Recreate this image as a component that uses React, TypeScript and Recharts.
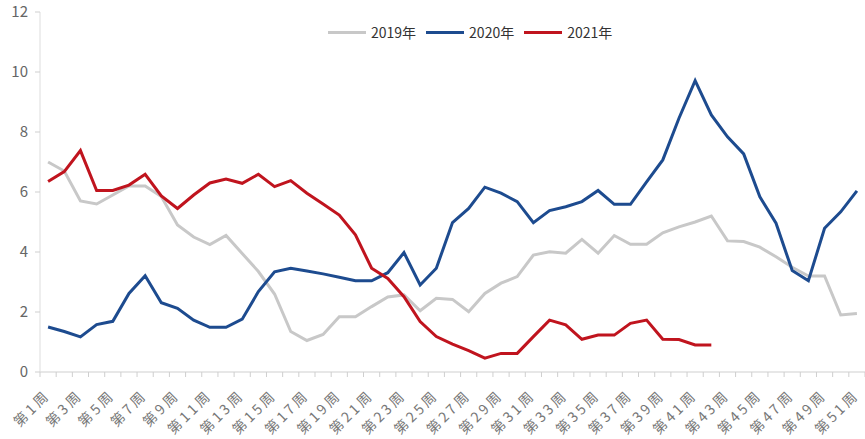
import React from 'react';
import { LineChart, Line, XAxis, YAxis } from 'recharts';

// 周次
const weeks = Array.from({ length: 51 }, (_, i) => `第${i + 1}周`);

// 各年数值
const y2019 = [
  7.0, 6.7, 5.7, 5.6, 5.9, 6.2, 6.2, 5.85, 4.9, 4.5,
  4.25, 4.55, 3.95, 3.35, 2.6, 1.35, 1.05, 1.25, 1.84, 1.84,
  2.18, 2.5, 2.57, 2.04, 2.46, 2.42, 2.01, 2.62, 2.96, 3.18,
  3.9, 4.01, 3.96, 4.42, 3.96, 4.55, 4.26, 4.26, 4.64, 4.84,
  5.0, 5.2, 4.37, 4.35, 4.16, 3.84, 3.49, 3.2, 3.2, 1.9,
  1.95,
];
const y2020 = [
  1.5, 1.35, 1.17, 1.58, 1.69, 2.62, 3.21, 2.31, 2.12, 1.73,
  1.49, 1.49, 1.76, 2.68, 3.34, 3.46, 3.37, 3.27, 3.16, 3.04,
  3.04, 3.31, 3.98, 2.9, 3.46, 4.98, 5.45, 6.16, 5.96, 5.68,
  4.98, 5.38, 5.51, 5.68, 6.05, 5.59, 5.59, 6.34, 7.07, 8.46,
  9.71, 8.57, 7.84, 7.27, 5.84, 4.96, 3.38, 3.04, 4.79, 5.34,
  6.04,
];
const y2021 = [
  6.35, 6.68, 7.38, 6.05, 6.05, 6.23, 6.59, 5.87, 5.45, 5.9,
  6.3, 6.43, 6.29, 6.59, 6.18, 6.38, 5.96, 5.6, 5.23, 4.57,
  3.46, 3.12, 2.51, 1.68, 1.18, 0.93, 0.71, 0.46, 0.62, 0.62,
  1.18, 1.73, 1.57, 1.09, 1.23, 1.23, 1.62, 1.73, 1.09, 1.08,
  0.9, 0.9,
];
const yTicks = [0, 2, 4, 6, 8, 10, 12];

const series = [
  { key: 'y2019', name: '2019年', color: '#c8c8c8' },
  { key: 'y2020', name: '2020年', color: '#1d4b8f' },
  { key: 'y2021', name: '2021年', color: '#c0141e' },
];

const data = weeks.map((w, i) => ({
  week: w,
  y2019: y2019[i],
  y2020: y2020[i],
  y2021: i < y2021.length ? y2021[i] : null,
}));

const W = 865;
const H = 439;
const LEFT = 40;
const half = (W - LEFT) / weeks.length / 2;
const font = '"Noto Sans CJK SC", "Noto Sans", sans-serif';

const XTick = (props: any) => {
  const { x, y, payload, index } = props;
  const last = index === weeks.length - 1;
  const tx = x + 3;
  const ty = y + 24;
  return (
    <g>
      <line x1={x - half} x2={x - half} y1={y} y2={y + 5} stroke="#cfcfcf" />
      {last && <line x1={x + half} x2={x + half} y1={y} y2={y + 5} stroke="#cfcfcf" />}
      {index % 2 === 0 && (
        <text
          x={tx}
          y={ty}
          textAnchor="end"
          transform={`rotate(-45, ${tx}, ${ty})`}
          fontSize={14}
          letterSpacing={3}
          fill="#777"
          fontFamily={font}
        >
          {payload.value}
        </text>
      )}
    </g>
  );
};

const LegendRow = () => (
  <div style={{ position: 'absolute', left: 328, top: 22, display: 'flex', alignItems: 'center', fontFamily: font, fontSize: 14, color: '#333' }}>
    {series.map((s) => (
      <div key={s.key} style={{ display: 'flex', alignItems: 'center', marginRight: 10 }}>
        <div style={{ width: 38, height: 3, background: s.color, marginRight: 5 }} />
        <span>{s.name}</span>
      </div>
    ))}
  </div>
);

export default function App() {
  return (
    <div style={{ position: 'absolute', left: 0, top: 0, width: W, height: H, background: '#fff' }}>
      <LineChart width={W} height={H} data={data} margin={{ top: 12, right: 0, bottom: 0, left: 0 }}>
        <XAxis
          dataKey="week"
          interval={0}
          height={67}
          padding={{ left: half, right: half }}
          tickSize={0}
          tickMargin={0}
          tickLine={false}
          axisLine={{ stroke: '#cfcfcf' }}
          tick={<XTick />}
        />
        <YAxis
          domain={[0, 12]}
          ticks={yTicks}
          width={LEFT}
          tickSize={5}
          tickMargin={7}
          axisLine={{ stroke: '#dddddd' }}
          tickLine={{ stroke: '#cfcfcf' }}
          tick={{ fontSize: 15, fill: '#666', fontFamily: font }}
        />
        {series.map((s) => (
          <Line
            key={s.key}
            dataKey={s.key}
            name={s.name}
            stroke={s.color}
            strokeWidth={3}
            dot={false}
            type="linear"
            isAnimationActive={false}
          />
        ))}
      </LineChart>
      <LegendRow />
    </div>
  );
}
